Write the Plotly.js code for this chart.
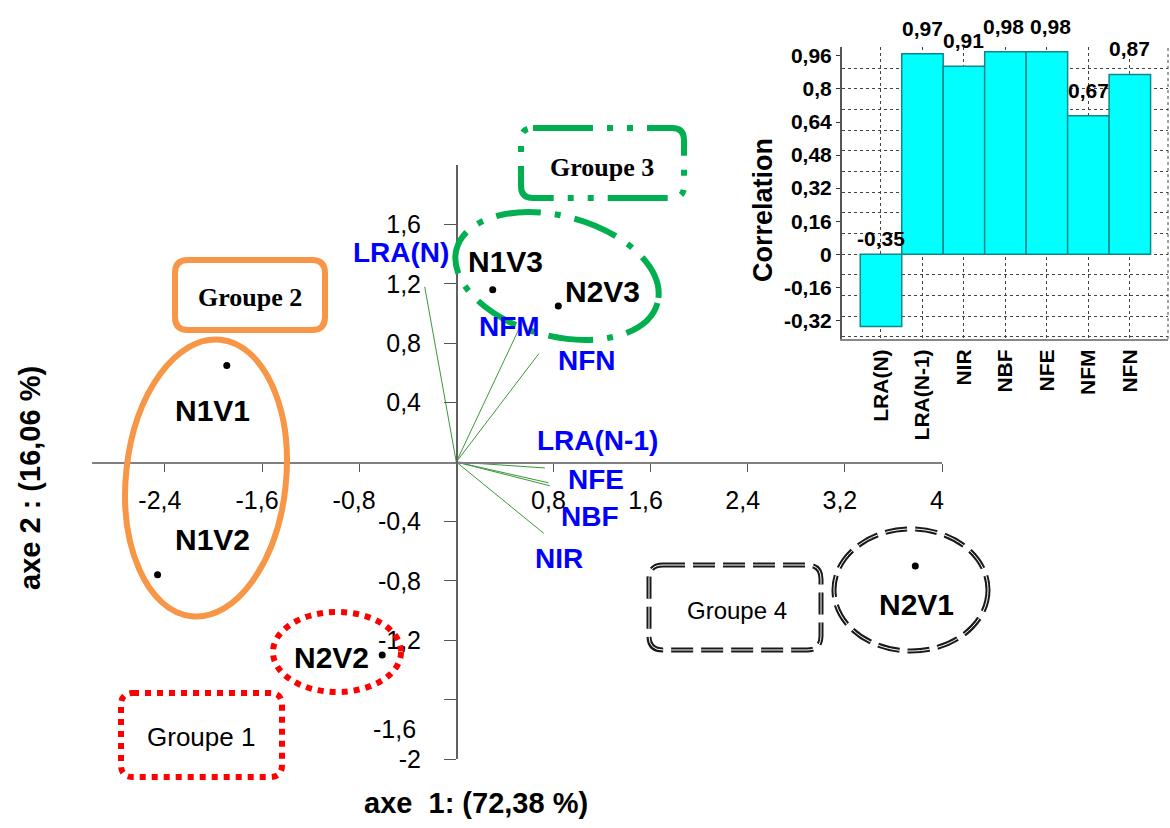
<!DOCTYPE html>
<html>
<head>
<meta charset="utf-8">
<script src="https://cdn.plot.ly/plotly-3.0.1.min.js"></script>
<style>html,body{margin:0;padding:0;background:#fff}#chart{width:1170px;height:828px}</style>
</head>
<body>
<div id="chart"></div>
<script>
// ---------- DATA ----------
const obsNames = ['N1V1', 'N1V2', 'N1V3', 'N2V3', 'N2V2', 'N2V1'];
const obsX = [-1.89, -2.46, 0.30, 0.84, -0.61, 3.78];
const obsY = [0.65, -0.76, 1.16, 1.05, -1.30, -0.70];

const varNames = ['LRA(N)', 'LRA(N-1)', 'NIR', 'NBF', 'NFE', 'NFM', 'NFN'];
const varX = [-0.26, 0.73, 0.72, 0.77, 0.76, 0.53, 0.68];
const varY = [1.18, -0.04, -0.48, -0.16, -0.14, 0.92, 0.73];

const corrCats = ['LRA(N)', 'LRA(N-1)', 'NIR', 'NBF', 'NFE', 'NFM', 'NFN'];
const corrVals = [-0.35, 0.97, 0.91, 0.98, 0.98, 0.67, 0.87];

const xTickVals = [-2.4, -1.6, -0.8, 0.8, 1.6, 2.4, 3.2, 4];
const xTickText = ['-2,4', '-1,6', '-0,8', '0,8', '1,6', '2,4', '3,2', '4'];
const yTickVals = [-2, -1.6, -1.2, -0.8, -0.4, 0.4, 0.8, 1.2, 1.6];
const yTickText = ['-2', '-1,6', '-1,2', '-0,8', '-0,4', '0,4', '0,8', '1,2', '1,6'];
const corrTickVals = [-0.32, -0.16, 0, 0.16, 0.32, 0.48, 0.64, 0.8, 0.96];
const corrTickText = ['-0,32', '-0,16', '0', '0,16', '0,32', '0,48', '0,64', '0,8', '0,96'];

const groupNames = ['Groupe 1', 'Groupe 2', 'Groupe 3', 'Groupe 4'];
const xTitle = 'axe  1: (72,38 %)';
const yTitle = 'axe 2 : (16,06 %)';
const corrTitle = 'Correlation';

// ---------- STYLE / LAYOUT HELPERS ----------
const W = 1170, H = 828;
const SANS = 'Arial, "Liberation Sans", sans-serif';
const SERIF = '"Times New Roman", "Liberation Serif", serif';
const px = x => x / W;
const py = y => 1 - y / H;
const fmt = v => v.toFixed(2).replace('.', ',');

function roundRect(x0, y0, x1, y1, r) {
  const P = (x, y) => px(x).toFixed(5) + ',' + py(y).toFixed(5);
  return 'M' + P(x0 + r, y0) + ' L' + P(x1 - r, y0) + ' Q' + P(x1, y0) + ' ' + P(x1, y0 + r) +
    ' L' + P(x1, y1 - r) + ' Q' + P(x1, y1) + ' ' + P(x1 - r, y1) +
    ' L' + P(x0 + r, y1) + ' Q' + P(x0, y1) + ' ' + P(x0, y1 - r) +
    ' L' + P(x0, y0 + r) + ' Q' + P(x0, y0) + ' ' + P(x0 + r, y0) + ' Z';
}
function ellipsePath(cx, cy, a, b, deg) {
  const k = 0.5523, t = deg * Math.PI / 180, c = Math.cos(t), s = Math.sin(t);
  const T = (x, y) => px(cx + x * c - y * s).toFixed(5) + ',' + py(cy + x * s + y * c).toFixed(5);
  return 'M' + T(a, 0) +
    ' C' + T(a, k * b) + ' ' + T(k * a, b) + ' ' + T(0, b) +
    ' C' + T(-k * a, b) + ' ' + T(-a, k * b) + ' ' + T(-a, 0) +
    ' C' + T(-a, -k * b) + ' ' + T(-k * a, -b) + ' ' + T(0, -b) +
    ' C' + T(k * a, -b) + ' ' + T(a, -k * b) + ' ' + T(a, 0) + ' Z';
}

// label pixel offsets [dx, dy_up]
const obsShift = {N1V1: [-14, -45], N1V2: [55, 35], N1V3: [13, 28], N2V3: [44, 15], N2V2: [-51, -2], N2V1: [1, -39]};
const varShift = {'LRA(N)': [-24, 34], 'LRA(N-1)': [53, 27], 'NIR': [15, -25], 'NBF': [40, -31], 'NFE': [47, 3], 'NFM': [-11, -1], 'NFN': [48, -7]};
const valueShift = {'NBF': -2, 'NFE': 4};

// ---------- TRACES ----------
const vx = [], vy = [];
varNames.forEach((n, i) => { vx.push(0, varX[i], null); vy.push(0, varY[i], null); });

const traces = [
  {type: 'scatter', mode: 'lines', x: vx, y: vy, xaxis: 'x', yaxis: 'y',
   line: {color: '#3a983a', width: 1}, hoverinfo: 'skip'},
  {type: 'scatter', mode: 'markers', x: obsX, y: obsY, xaxis: 'x', yaxis: 'y',
   marker: {color: '#000', size: 7}, text: obsNames},
  {type: 'bar', x: corrCats, y: corrVals, xaxis: 'x2', yaxis: 'y2',
   marker: {color: '#00FFFF', line: {color: '#118888', width: 1.5}}}
];

// ---------- ANNOTATIONS ----------
const ann = [];
varNames.forEach((n, i) => ann.push({
  xref: 'x', yref: 'y', x: varX[i], y: varY[i], text: n, showarrow: false,
  xshift: varShift[n][0], yshift: varShift[n][1], xanchor: 'center', yanchor: 'middle',
  font: {family: SANS, size: 28, color: '#0000FF', weight: 'bold'}
}));
obsNames.forEach((n, i) => ann.push({
  xref: 'x', yref: 'y', x: obsX[i], y: obsY[i], text: n, showarrow: false,
  xshift: obsShift[n][0], yshift: obsShift[n][1], xanchor: 'center', yanchor: 'middle',
  font: {family: SANS, size: 30, color: '#000', weight: 'bold'}
}));
// displaced -1,6 tick label as in the reference
ann.push({xref: 'x', yref: 'y', x: 0, y: yTickVals[1], text: yTickText[1], showarrow: false,
  xanchor: 'right', yanchor: 'middle', xshift: -38, yshift: -29,
  font: {family: SANS, size: 25, color: '#000'}});
// axis titles
ann.push({xref: 'paper', yref: 'paper', x: px(476), y: py(803), text: xTitle, showarrow: false,
  xanchor: 'center', yanchor: 'middle', font: {family: SANS, size: 29, color: '#000', weight: 'bold'}});
ann.push({xref: 'paper', yref: 'paper', x: px(30), y: py(478), text: yTitle, showarrow: false, textangle: -90,
  xanchor: 'center', yanchor: 'middle', font: {family: SANS, size: 29, color: '#000', weight: 'bold'}});
ann.push({xref: 'paper', yref: 'paper', x: px(763), y: py(210), text: corrTitle, showarrow: false, textangle: -90,
  xanchor: 'center', yanchor: 'middle', font: {family: SANS, size: 27, color: '#000', weight: 'bold'}});
// group labels
const groupLabelPos = [[201, 737, SANS, 26, 'normal'], [250, 297, SERIF, 26, 'bold'], [602, 167, SERIF, 26, 'bold'], [737, 610, SANS, 24, 'normal']];
groupNames.forEach((g, i) => {
  const p = groupLabelPos[i];
  ann.push({xref: 'paper', yref: 'paper', x: px(p[0]), y: py(p[1]), text: g, showarrow: false,
    xanchor: 'center', yanchor: 'middle', font: {family: p[2], size: p[3], color: '#000', weight: p[4]}});
});
// bar values
corrCats.forEach((c, i) => ann.push({
  xref: 'x2', yref: 'y2', x: c, y: Math.max(corrVals[i], 0), text: fmt(corrVals[i]), showarrow: false,
  xanchor: 'center', yanchor: 'bottom', yshift: corrVals[i] < 0 ? 2 : 12, xshift: valueShift[c] || 0,
  font: {family: SANS, size: 21, color: '#000', weight: 'bold'}
}));

// ---------- SHAPES ----------
const ORANGE = '#F79646', RED = '#FF0000', GREEN = '#00B050', BLACK = '#1a1a1a';
const shapes = [
  {type: 'path', xref: 'paper', yref: 'paper', path: roundRect(175, 260, 325, 330, 13), line: {color: ORANGE, width: 6}},
  {type: 'path', xref: 'paper', yref: 'paper', path: ellipsePath(206, 478, 80, 139, 6), line: {color: ORANGE, width: 6}},
  {type: 'path', xref: 'paper', yref: 'paper', path: roundRect(121, 693, 282, 777, 12), line: {color: RED, width: 6, dash: 'dot'}},
  {type: 'path', xref: 'paper', yref: 'paper', path: ellipsePath(337, 652, 64, 40, 0), line: {color: RED, width: 6, dash: 'dot'}},
  {type: 'path', xref: 'paper', yref: 'paper', path: roundRect(521, 128, 684, 198, 12), line: {color: GREEN, width: 6, dash: '60px,14px,6px,14px,6px,14px'}},
  {type: 'path', xref: 'paper', yref: 'paper', path: ellipsePath(557, 276, 104, 60, 15), line: {color: GREEN, width: 6, dash: '45px,14px,6px,14px'}},
  {type: 'path', xref: 'paper', yref: 'paper', path: roundRect(649, 565, 821, 650, 14), line: {color: BLACK, width: 5, dash: '22px,8px'}},
  {type: 'path', xref: 'paper', yref: 'paper', path: roundRect(649, 565, 821, 650, 14), line: {color: '#ffffff', width: 1, dash: '22px,8px'}},
  {type: 'path', xref: 'paper', yref: 'paper', path: ellipsePath(911, 590, 77, 61, 0), line: {color: BLACK, width: 5, dash: '22px,8px'}},
  {type: 'path', xref: 'paper', yref: 'paper', path: ellipsePath(911, 590, 77, 61, 0), line: {color: '#ffffff', width: 1, dash: '22px,8px'}},
  {type: 'line', xref: 'x2 domain', yref: 'y2 domain', x0: 1, x1: 1, y0: 0, y1: 1, line: {color: '#444', width: 1, dash: 'dot'}, layer: 'below'}
];

// ---------- LAYOUT ----------
const yTickTextShown = yTickText.map((t, i) => i === 1 ? '' : t);
const layout = {
  width: W, height: H,
  margin: {l: 0, r: 0, t: 0, b: 0, pad: 0},
  paper_bgcolor: '#fff', plot_bgcolor: 'rgba(0,0,0,0)',
  showlegend: false, separators: ', ',
  bargap: 0,
  font: {family: SANS, color: '#000'},
  xaxis: {
    domain: [px(92), px(942)], range: [-3, 4], anchor: 'free', position: (828 - 462) / 828,
    tickmode: 'array', tickvals: xTickVals, ticktext: xTickText,
    ticks: 'outside', ticklen: 8, tickcolor: '#555', tickwidth: 1,
    ticklabelstandoff: 7, ticklabelshift: -5,
    showline: true, linecolor: '#808080', linewidth: 1.5,
    showgrid: false, zeroline: false,
    tickfont: {family: SANS, size: 25, color: '#000'}
  },
  yaxis: {
    domain: [py(759), py(165)], range: [-2, 2], anchor: 'free', position: px(456),
    tickmode: 'array', tickvals: yTickVals, ticktext: yTickTextShown,
    ticks: 'outside', ticklen: 12, tickcolor: '#555', tickwidth: 1,
    ticklabelstandoff: 18,
    showline: true, linecolor: '#606060', linewidth: 1.5,
    showgrid: false, zeroline: false,
    tickfont: {family: SANS, size: 25, color: '#000'}
  },
  xaxis2: {
    domain: [px(842), px(1168)], anchor: 'y2', type: 'category', range: [-0.94, 6.92],
    tickangle: -90, ticks: '', showgrid: true, griddash: 'dot', gridcolor: '#444', gridwidth: 1,
    showline: true, linecolor: '#888', linewidth: 2, zeroline: false,
    tickfont: {family: SANS, size: 21, color: '#000', weight: 'bold'}
  },
  yaxis2: {
    domain: [py(339), py(47)], anchor: 'x2', range: [-0.41, 1.003],
    tickmode: 'array', tickvals: corrTickVals, ticktext: corrTickText,
    ticks: 'outside', ticklen: 4, tickcolor: '#333',
    showgrid: false, zeroline: false,
    minor: {tick0: 0, dtick: 0.1, showgrid: true, griddash: 'dot', gridcolor: '#444', gridwidth: 1},
    showline: true, linecolor: '#555', linewidth: 2,
    tickfont: {family: SANS, size: 21, color: '#000', weight: 'bold'}
  },
  annotations: ann,
  shapes: shapes
};

Plotly.newPlot('chart', traces, layout, {displayModeBar: false, staticPlot: true});
</script>
</body>
</html>
